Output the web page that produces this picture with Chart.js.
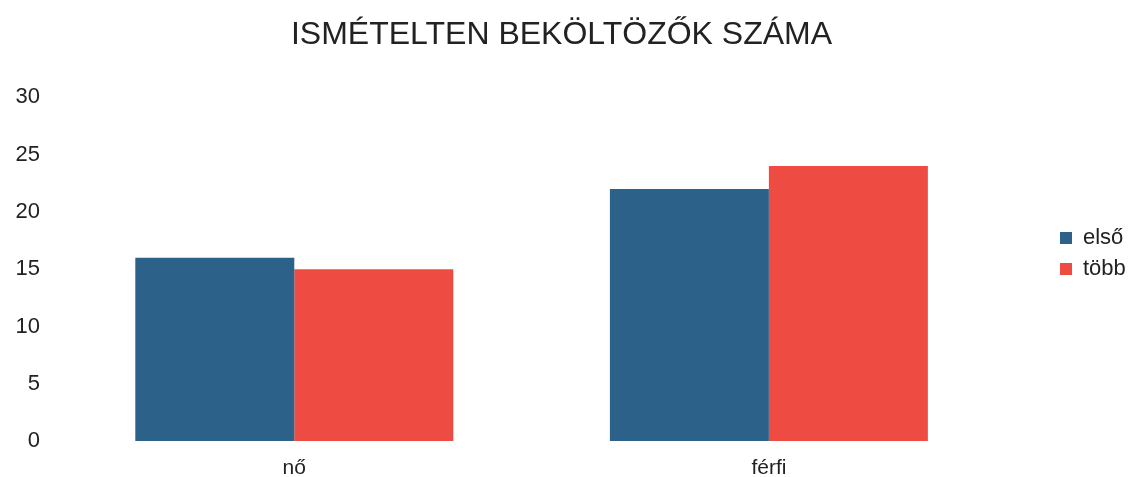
<!DOCTYPE html>
<html><head><meta charset="utf-8">
<script src="https://cdn.jsdelivr.net/npm/chart.js@4"></script>
<style>html,body{margin:0;padding:0;background:#fff}#wrap{width:1139px;height:477px}</style>
</head><body><div id="wrap"><canvas id="c" width="1139" height="477"></canvas></div>
<script>
const categories = ["nő", "férfi"];
const seriesNames = ["első", "több"];
const elsoValues = [16, 22];
const tobbValues = [15, 24];
const yTicks = [0, 5, 10, 15, 20, 25, 30];
const titleText = "ISMÉTELTEN BEKÖLTÖZŐK SZÁMA";

const FONT = "'Liberation Sans', Arial, sans-serif";
const legendMove = {
  id: 'legendMove',
  afterLayout(chart) {
    const lg = chart.legend;
    const w = lg.width;
    lg.left = 1051; lg.right = lg.left + w;
    lg.top += 15; lg.bottom += 15;
    const tb = chart.titleBlock;
    if (tb) { tb.left += 16; tb.right += 16; }
  }
};
new Chart(document.getElementById('c'), {
  type: 'bar',
  data: {
    labels: categories,
    datasets: [
      { label: seriesNames[0], data: elsoValues, backgroundColor: '#2c6189' },
      { label: seriesNames[1], data: tobbValues, backgroundColor: '#ee4b42' }
    ]
  },
  options: {
    responsive: false,
    animation: false,
    layout: { padding: { left: 0, right: 48, top: 0, bottom: 0 } },
    datasets: { bar: { categoryPercentage: 0.67, barPercentage: 1.0 } },
    plugins: {
      title: { display: true, text: titleText, color: '#222', font: { family: FONT, size: 32, weight: 'normal' }, padding: { top: 16, bottom: 43 } },
      legend: {
        position: 'right', align: 'center',
        labels: { color: '#222', font: { family: FONT, size: 22 }, boxWidth: 12, boxHeight: 12, padding: 9 }
      },
      tooltip: { enabled: false }
    },
    scales: {
      x: {
        afterFit: s => { s.height = 36; },
        grid: { display: false, drawTicks: false },
        border: { display: false },
        ticks: { color: '#222', font: { family: FONT, size: 21 }, padding: 15 }
      },
      y: {
        min: 0, max: 30,
        afterBuildTicks: s => { s.ticks = yTicks.map(v => ({ value: v })); },
        afterFit: s => { s.width = 57; },
        grid: { display: false, drawTicks: false },
        border: { display: false },
        ticks: { color: '#222', font: { family: FONT, size: 22 }, padding: 17 }
      }
    }
  },
  plugins: [legendMove]
});
</script></body></html>
